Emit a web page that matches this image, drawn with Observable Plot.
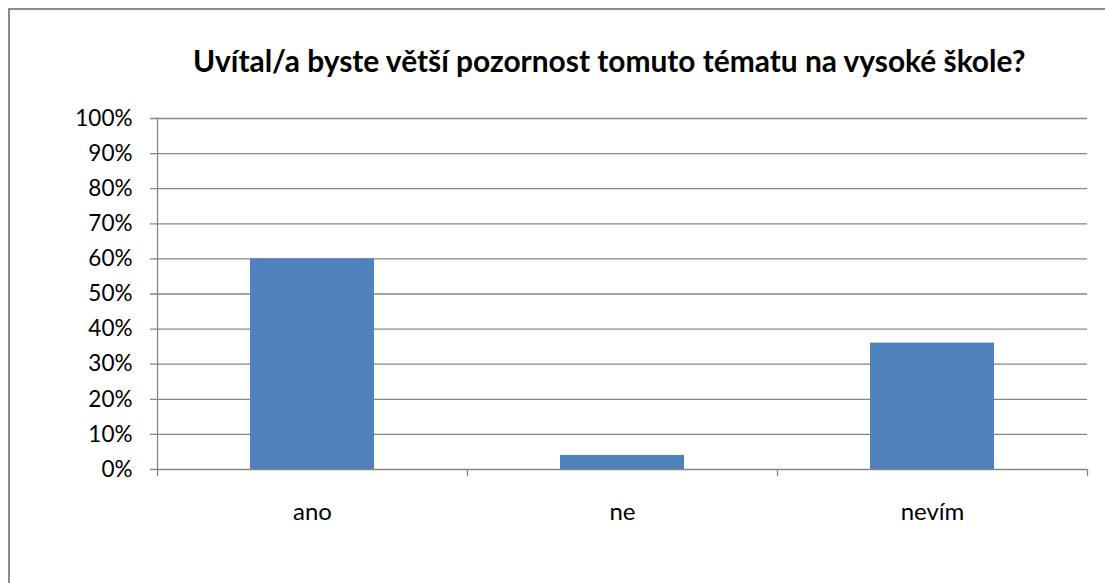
<!DOCTYPE html>
<html>
<head>
<meta charset="utf-8">
<script src="https://cdn.jsdelivr.net/npm/d3@7"></script>
<script src="https://cdn.jsdelivr.net/npm/@observablehq/plot@0.6"></script>
<style>
  html, body { margin: 0; padding: 0; background: #fff; overflow: hidden; }
  #wrap { position: relative; width: 1105px; height: 583px; overflow: hidden; background: #fff; }
  #border { position: absolute; left: 8px; top: 8px; width: 1200px; height: 700px; border: 2px solid #8c8c8c; box-sizing: border-box; }
  #title { position: absolute; left: 193px; top: 43px; height: 34px; line-height: 34px; white-space: nowrap;
           font-family: Lato, sans-serif; font-weight: bold; color: #000; }
  #plot { position: absolute; left: 0; top: 100px; }
</style>
</head>
<body>
<div id="wrap">
  <div id="border"></div>
  <div id="title"></div>
  <div id="plot"></div>
</div>
<script>
const titleText = "Uvítal/a byste větší pozornost tomuto tématu na vysoké škole?";
const categories = ["ano", "ne", "nevím"];
const values = [0.60, 0.04, 0.36];
const yTicks = [0, 0.1, 0.2, 0.3, 0.4, 0.5, 0.6, 0.7, 0.8, 0.9, 1.0];

const data = categories.map((c, i) => ({category: c, value: values[i]}));

// fit title width to reference
const titleEl = document.getElementById("title");
const ctx = document.createElement("canvas").getContext("2d");
ctx.font = "bold 26px Lato";
const w = ctx.measureText(titleText).width;
titleEl.style.fontSize = (26 * 834 / w).toFixed(2) + "px";
titleEl.textContent = titleText;

const W = 1105, H = 483, mL = 157, mR = 18, mT = 18, mB = 114;
const step = (W - mL - mR) / categories.length;
const gray = "#868686";

const chart = Plot.plot({
  width: W, height: H,
  marginLeft: mL, marginRight: mR, marginTop: mT, marginBottom: mB,
  style: {fontFamily: "Lato, sans-serif", fontSize: "22px", color: "#000", background: "transparent"},
  x: {domain: categories, paddingInner: 0.6, paddingOuter: 0.3, label: null},
  y: {domain: [0, 1], label: null},
  marks: [
    Plot.ruleY(yTicks.filter(d => d > 0), {y: d => d, stroke: gray, strokeWidth: 1.3, insetLeft: -7}),
    Plot.barY(data, {x: "category", y: "value", fill: "#4F81BD"}),
    Plot.ruleY([0], {stroke: gray, strokeWidth: 1.3, insetLeft: -7}),
    Plot.frame({anchor: "left", stroke: gray, strokeWidth: 1.3}),
    Plot.ruleX(categories, {x: d => d, y1: 0, y2: 0, insetBottom: -7, dx: -step / 2, stroke: gray, strokeWidth: 1.3}),
    Plot.ruleX(categories.slice(-1), {x: d => d, y1: 0, y2: 0, insetBottom: -7, dx: step / 2, stroke: gray, strokeWidth: 1.3}),
    Plot.axisY(yTicks, {tickSize: 0, tickPadding: 25, tickFormat: d3.format(".0%"), label: null, fontSize: 22.5}),
    Plot.axisX({tickSize: 0, tickPadding: 33, label: null, fontSize: 24})
  ]
});
document.getElementById("plot").appendChild(chart);
</script>
</body>
</html>
